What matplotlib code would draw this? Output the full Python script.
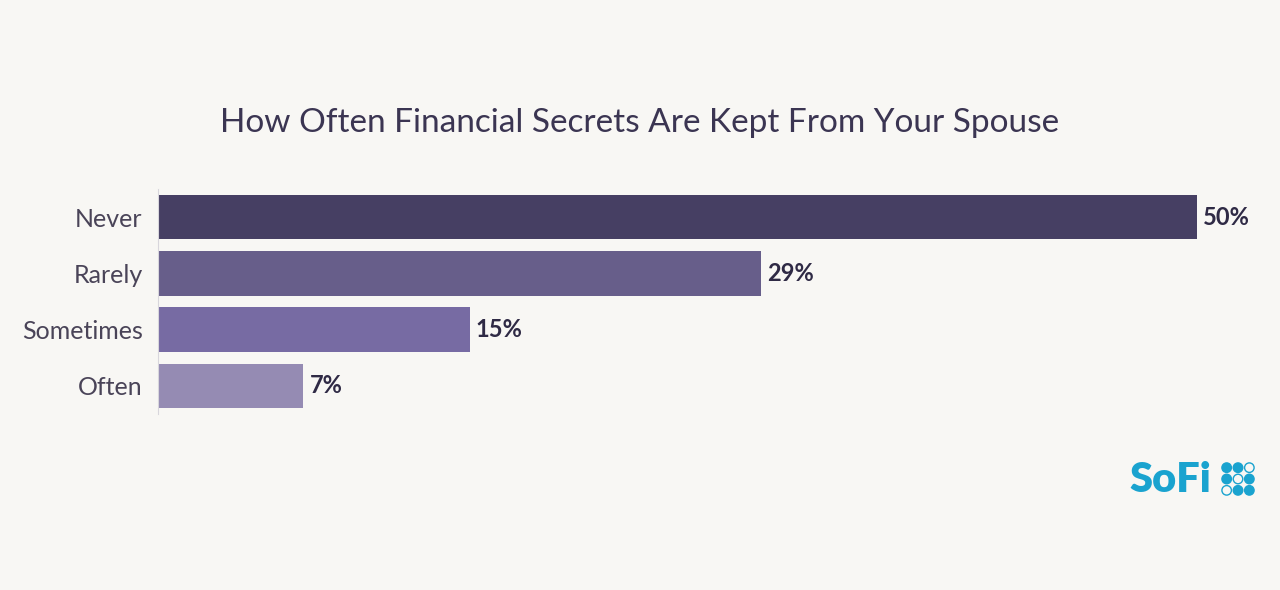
import matplotlib
matplotlib.use("Agg")
import matplotlib.pyplot as plt
from matplotlib.patches import Circle

categories = ["Never", "Rarely", "Sometimes", "Often"]
values = [50, 29, 15, 7]
colors = ["#463f63", "#675e8a", "#776ba3", "#958bb3"]

BG = "#f8f7f4"
plt.rcParams['font.family'] = ['Lato', 'DejaVu Sans']

fig = plt.figure(figsize=(12.8, 5.9), dpi=100, facecolor=BG)
ax = fig.add_axes([158/1280, 1 - 414/590, (1197 - 158)/1280, 225/590])
ax.set_facecolor(BG)

ypos = list(range(len(categories)))
ax.barh(ypos, values, height=0.79, color=colors)
for y, v in zip(ypos, values):
    ax.text(v + 0.3, y, f"{v}%", va="center", ha="left", fontsize=17,
            fontweight="bold", color="#2f2a45")

ax.set_xlim(0, 50)
ax.set_ylim(3.5, -0.5)
ax.set_yticks(ypos)
ax.set_yticklabels(categories, fontsize=18, color="#4a4458")
ax.tick_params(axis="y", length=0, pad=11)
ax.set_xticks([])
for s in ["top", "right", "bottom"]:
    ax.spines[s].set_visible(False)
ax.spines["left"].set_color("#d8d6dc")

fig.text(640/1280, 1 - 123/590, "How Often Financial Secrets Are Kept From Your Spouse",
         ha="center", va="center", fontsize=24, color="#3b3552")

# logo
blue = "#1aa3cf"
fig.text(1129/1280, 1 - 480/590, "SoFi", ha="left", va="center", fontsize=30,
         fontweight="heavy", color=blue)
lax = fig.add_axes([1219/1280, 1 - 496/590, 38/1280, 34/590])
lax.set_xlim(0, 3)
lax.set_ylim(0, 3)
lax.set_aspect("equal")
lax.axis("off")
for i in range(3):
    for j in range(3):
        hollow = (i, j) in [(2, 2), (1, 1), (0, 0)]
        lax.add_patch(Circle((i + 0.5, j + 0.5), 0.42,
                             facecolor="none" if hollow else blue,
                             edgecolor=blue, lw=1))

fig.savefig("out.png", dpi=100, facecolor=BG)
